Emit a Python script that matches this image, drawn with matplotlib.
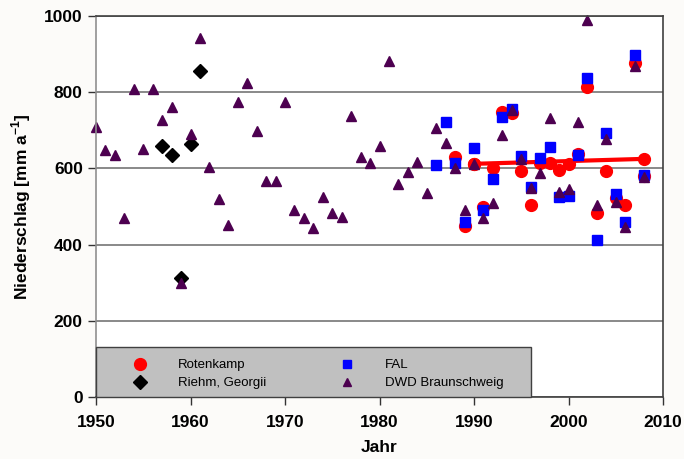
import numpy as np
import matplotlib.pyplot as plt
from matplotlib.patches import Rectangle

plt.rcParams['font.family'] = ['Liberation Sans', 'DejaVu Sans']

# DWD Braunschweig (annual precipitation, mm/a)
dwd_years = list(range(1950, 2009))
dwd_vals = [709, 648, 634, 469, 809, 650, 809, 726, 762, 300,
            689, 943, 604, 519, 451, 773, 823, 698, 567, 567,
            773, 492, 471, 444, 526, 484, 473, 737, 630, 613,
            660, 882, 560, 591, 618, 535, 707, 666, 600, 491,
            612, 471, 510, 687, 752, 625, 549, 587, 733, 538,
            545, 723, 989, 505, 678, 512, 445, 868, 578]

# Riehm, Georgii
rg_years = [1957, 1958, 1959, 1960, 1961]
rg_vals = [660, 634, 312, 663, 855]

# FAL
fal_years = list(range(1986, 2009))
fal_vals = [609, 722, 615, 459, 654, 490, 573, 736, 757, 632, 551, 628,
            657, 525, 527, 636, 836, 412, 694, 534, 459, 897, 582]

# Rotenkamp
rot_years = list(range(1988, 2009))
rot_vals = [631, 449, 612, 499, 600, 748, 746, 593, 505, 615, 615,
            596, 611, 638, 814, 484, 593, 522, 503, 876, 580]

# Rotenkamp mean line 1990-2008
trend_years = [1990, 2008]
trend_vals = [612, 625]

fig = plt.figure(figsize=(6.84, 4.59), dpi=100, facecolor='#fcfbf9')
ax = fig.add_axes([96/684, 62/459, 567/684, 381/459])

ax.set_axisbelow(True)
ax.yaxis.grid(True, color='#808080', linewidth=1.3)

h_rot, = ax.plot(rot_years, rot_vals, 'o', color='red', ms=8.5, ls='none',
                 label='Rotenkamp', clip_on=False)
ax.plot(trend_years, trend_vals, '-o', color='red', lw=3, ms=8.5, clip_on=False)
h_rg, = ax.plot(rg_years, rg_vals, 'D', color='black', ms=7, ls='none',
                label='Riehm, Georgii', clip_on=False)
h_fal, = ax.plot(fal_years, fal_vals, 's', color='#0000ff', ms=6.5, ls='none',
                 label='FAL', clip_on=False)
h_dwd, = ax.plot(dwd_years, dwd_vals, '^', color='#4d0050', ms=7, ls='none',
                 label='DWD Braunschweig', clip_on=False)

ax.set_xlim(1950, 2010)
ax.set_ylim(0, 1000)
ax.set_xticks(np.arange(1950, 2011, 10))
ax.set_yticks(np.arange(0, 1001, 200))
ax.tick_params(direction='out', length=6, width=1, colors='#333333',
               labelsize=12.5, labelcolor='black')
ax.tick_params(axis='x', pad=7)
for lab in ax.get_xticklabels() + ax.get_yticklabels():
    lab.set_fontweight('bold')

for s in ax.spines.values():
    s.set_color('#404040')
    s.set_linewidth(1.2)
ax.spines['left'].set_color('#909090')

ax.set_xlabel('Jahr', fontsize=12.5, fontweight='bold', labelpad=7)
ax.set_ylabel('Niederschlag [mm a$^{\\mathregular{-1}}$]', fontsize=12.5,
              fontweight='bold', labelpad=8)

# grey legend box
ax.add_patch(Rectangle((0, 0), 0.767, 0.131, transform=ax.transAxes,
                       facecolor='#c0c0c0', edgecolor='#404040', lw=1,
                       zorder=3, clip_on=False))

fs = 9.5
leg = ax.legend(handles=[h_rot, h_rg, h_fal, h_dwd], ncol=2,
                loc='center left', bbox_to_anchor=(0.066, 0.06),
                frameon=False, fontsize=fs, borderaxespad=0, borderpad=0,
                handlelength=1.0, handletextpad=2.4, columnspacing=5.6,
                labelspacing=0.45)
leg.set_zorder(4)
for h, m in zip(leg.legend_handles, [8.5, 7, 5.5, 5.5]):
    h.set_markersize(m)

fig.savefig('out.png', dpi=100, facecolor=fig.get_facecolor())
